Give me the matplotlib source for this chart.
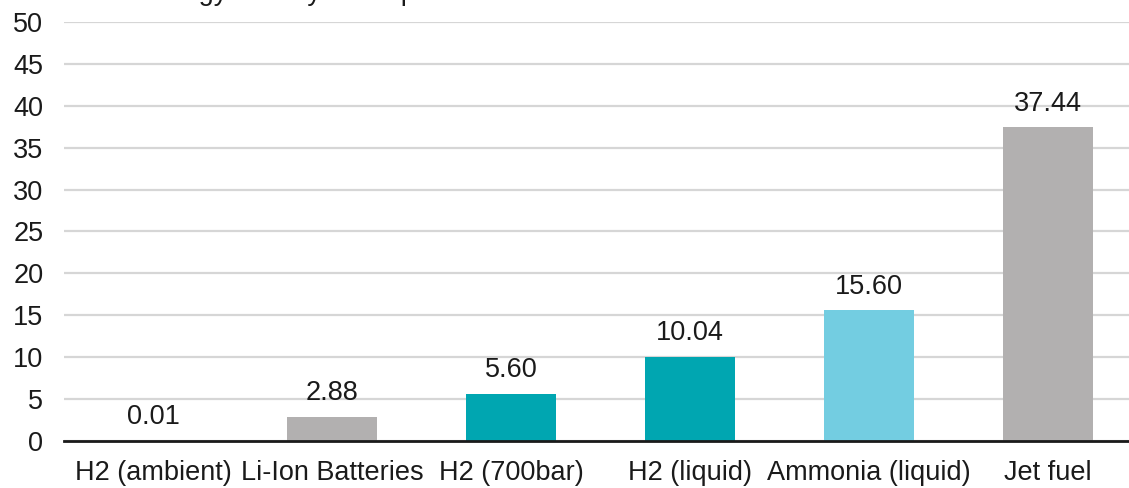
import matplotlib.pyplot as plt

plt.rcParams["font.family"] = ["Liberation Sans", "DejaVu Sans"]

categories = ["H2 (ambient)", "Li-Ion Batteries", "H2 (700bar)",
              "H2 (liquid)", "Ammonia (liquid)", "Jet fuel"]
values = [0.01, 2.88, 5.60, 10.04, 15.60, 37.44]
value_labels = ["0.01", "2.88", "5.60", "10.04", "15.60", "37.44"]
colors = ["#B2B0B0", "#B2B0B0", "#00A6B1", "#00A6B1", "#73CDE1", "#B2B0B0"]
yticks = list(range(0, 51, 5))

fig = plt.figure(figsize=(11.29, 4.88), dpi=100)
ax = fig.add_axes([63.5 / 1129, 1 - 441 / 488, 1074 / 1129, (441 - 22) / 488])

x = range(len(categories))
ax.bar(x, values, width=0.5, color=colors, zorder=3)
for xi, v, lab in zip(x, values, value_labels):
    ax.annotate(lab, (xi, v), xytext=(0, 12), textcoords="offset points",
                ha="center", va="baseline", fontsize=19.5, color="#1a1a1a")

ax.set_xlim(-0.5, 5.5)
ax.set_ylim(0, 50)
ax.set_yticks(yticks)
ax.set_xticks(list(x))
ax.set_xticklabels(categories)
ax.yaxis.grid(True, color="#D6D6D6", linewidth=1.6, zorder=0)
ax.tick_params(axis="y", length=0, pad=14.5, labelsize=19.5, labelcolor="#1a1a1a")
ax.tick_params(axis="x", length=0, pad=14, labelsize=19.5, labelcolor="#1a1a1a")
for s in ["top", "right", "left"]:
    ax.spines[s].set_visible(False)
ax.spines["bottom"].set_color("#1a1a1a")
ax.spines["bottom"].set_linewidth(2)
ax.spines["bottom"].set_zorder(4)

# title is cut off at the top of the image, as in the source
fig.text(0.009, 1 - 0.5 / 488, "Volumetric energy density in MJ per liter",
         ha="left", va="baseline", fontsize=19.5, color="#1a1a1a")

fig.savefig("out.png", dpi=100)
